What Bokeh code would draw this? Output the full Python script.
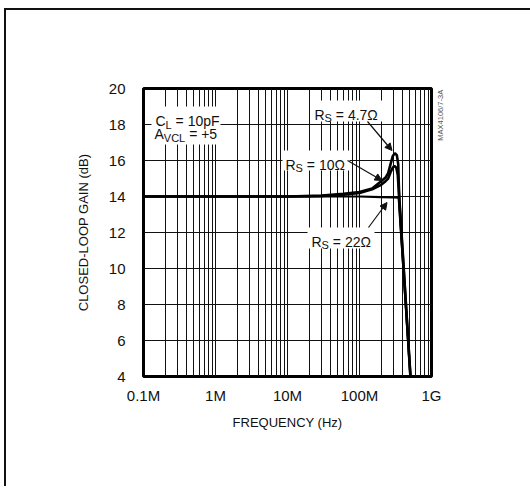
import math
from bokeh.plotting import figure
from bokeh.models import FixedTicker, Label, Arrow, NormalHead, BoxAnnotation, LinearAxis
from bokeh.embed import file_html
from bokeh.resources import INLINE

# ---------------- data ----------------
freq_rs47 = [1e5, 1e6, 1e7, 3e7, 6e7, 1e8, 1.5e8, 2e8, 2.3e8, 2.5e8, 2.7e8, 2.9e8, 3.1e8, 3.3e8, 3.45e8, 3.52e8, 3.58e8, 5.1e8]
gain_rs47 = [14.0, 14.0, 14.0, 14.05, 14.15, 14.25, 14.45, 14.85, 15.05, 15.3, 15.8, 16.25, 16.4, 16.3, 15.8, 14.6, 13.9, 4.0]

freq_rs10 = [1e5, 1e6, 1e7, 3e7, 6e7, 1e8, 1.5e8, 2e8, 2.3e8, 2.5e8, 2.7e8, 2.9e8, 3.05e8, 3.25e8, 3.4e8, 3.5e8, 3.55e8, 5.1e8]
gain_rs10 = [14.0, 14.0, 14.0, 14.03, 14.1, 14.2, 14.4, 14.65, 14.85, 15.0, 15.35, 15.6, 15.7, 15.6, 15.2, 14.4, 13.9, 4.0]

freq_rs22 = [1e5, 1e6, 1e7, 1e8, 2e8, 3e8, 3.5e8, 5.1e8]
gain_rs22 = [14.0, 14.0, 14.0, 14.0, 13.97, 13.95, 13.93, 4.0]

x_major_ticks = [1e5, 1e6, 1e7, 1e8, 1e9]
x_tick_labels = ["0.1M", "1M", "10M", "100M", "1G"]
y_ticks = [4, 6, 8, 10, 12, 14, 16, 18, 20]
part_number = "MAX4106/7-3A"

FONT = "Liberation Sans"

# page-pixel -> data helpers (frame in page pixels)
FL, FR, FT, FB = 143.0, 431.0, 88.0, 376.0
def fx(px):
    return 10 ** (5 + 4 * (px - FL) / (FR - FL))
def fy(py):
    return 20 - 16 * (py - FT) / (FB - FT)

W, H = 528, 478
OX, OY = 6, 10  # page position of canvas origin

p = figure(width=W, height=H, x_axis_type="log", x_range=(1e5, 1e9), y_range=(4, 20),
           output_backend="svg", toolbar_location=None,
           min_border_left=int(FL - OX), min_border_top=int(FT - OY),
           min_border_right=int(W - (FR - OX)), min_border_bottom=int(H - (FB - OY)))
p.styles = {"margin-left": "6px", "margin-top": "10px", "border": "none",
            "box-shadow": "-2px -2px 0 0 #111", "overflow": "hidden"}

p.outline_line_color = "black"
p.outline_line_width = 3
p.background_fill_color = "white"
p.border_fill_color = "white"

minor = [k * 10 ** d for d in range(5, 9) for k in range(1, 10)] + [1e9]
p.xgrid.ticker = FixedTicker(ticks=minor)
p.xgrid.grid_line_color = "#111"
p.xgrid.grid_line_width = 1
p.ygrid.ticker = FixedTicker(ticks=y_ticks)
p.ygrid.grid_line_color = "#111"
p.ygrid.grid_line_width = 1

p.xaxis.ticker = FixedTicker(ticks=x_major_ticks)
p.xaxis.major_label_overrides = {t: l for t, l in zip(x_major_ticks, x_tick_labels)}
p.yaxis.ticker = FixedTicker(ticks=y_ticks)
for ax in (p.xaxis[0], p.yaxis[0]):
    ax.axis_line_color = None
    ax.major_tick_line_color = None
    ax.minor_tick_line_color = None
    ax.major_tick_out = 0
    ax.major_tick_in = 0
    ax.minor_tick_out = 0
    ax.minor_tick_in = 0
    ax.major_label_text_font = FONT
    ax.major_label_text_font_size = "15px"
    ax.major_label_text_color = "#111"
    ax.axis_label_text_font = FONT
    ax.axis_label_text_font_size = "13px"
    ax.axis_label_text_font_style = "normal"
    ax.axis_label_text_color = "#111"
p.xaxis.axis_label = "FREQUENCY (Hz)"
p.yaxis.axis_label = "CLOSED-LOOP GAIN (dB)"
p.xaxis.major_label_standoff = 10
p.yaxis.major_label_standoff = 18
p.xaxis.axis_label_standoff = 8
p.yaxis.axis_label_standoff = 15

# right-hand axis used only to carry the vertical part number
pn_pos = 17.1
rax = LinearAxis(ticker=FixedTicker(ticks=[pn_pos]),
                 major_label_overrides={pn_pos: part_number},
                 major_label_orientation=math.pi / 2,
                 axis_line_color=None, major_tick_line_color=None, minor_tick_line_color=None,
                 major_tick_out=0, major_tick_in=0, minor_tick_out=0, minor_tick_in=0,
                 major_label_standoff=9, major_label_text_font=FONT,
                 major_label_text_font_size="7.5px", major_label_text_color="#555")
p.add_layout(rax, "right")

p.line(freq_rs22, gain_rs22, line_color="black", line_width=2.2)
p.line(freq_rs10, gain_rs10, line_color="black", line_width=2.6)
p.line(freq_rs47, gain_rs47, line_color="black", line_width=2.6)

# ---------- annotations ----------
WID = {'R': 722, 'S': 667, ' ': 278, '=': 584, '4': 556, '.': 278, '7': 556, 'Ω': 768,
       '1': 556, '0': 556, '2': 556, 'C': 722, 'L': 556, 'p': 556, 'F': 611, 'A': 667,
       'V': 667, '+': 584, '5': 556}
def tw(s, size):
    return sum(WID.get(c, 556) for c in s) * size / 1000.0

def compound(px, py, pieces, main=14, sub=11):
    x = px
    for txt, is_sub, gap in pieces:
        size = sub if is_sub else main
        yy = py + 3.5 if is_sub else py
        x += gap
        p.add_layout(Label(x=fx(x), y=fy(yy), text=txt, text_font=FONT,
                           text_font_size=f"{size}px", text_color="#111",
                           text_align="left", text_baseline="alphabetic"))
        x += tw(txt, size)

def box(l, r, t, b):
    p.add_layout(BoxAnnotation(left=fx(l), right=fx(r), top=fy(t), bottom=fy(b),
                               fill_color="white", fill_alpha=1.0, line_color=None))

box(151, 220, 106, 144)
box(311, 382, 100, 121)
box(282, 349, 150, 170)
box(307, 374, 227, 248)

GAP = 3.9
compound(155, 120.5, [("C", False, 0), ("L", True, 0), ("= 10pF", False, GAP)])
compound(154, 133.5, [("A", False, 0), ("VCL", True, 0), ("= +5", False, GAP)])
compound(314, 114, [("R", False, 0), ("S", True, 0), ("= 4.7Ω", False, GAP)])
compound(285, 164, [("R", False, 0), ("S", True, 0), ("= 10Ω", False, GAP)])
compound(311, 241, [("R", False, 0), ("S", True, 0), ("= 22Ω", False, GAP)])

def arrow(x0, y0, x1, y1):
    p.add_layout(Arrow(x_start=fx(x0), y_start=fy(y0), x_end=fx(x1), y_end=fy(y1),
                       line_color="#111", line_width=1.2,
                       end=NormalHead(size=7, fill_color="#111", line_color="#111")))

arrow(367, 121, 391.5, 150)
arrow(347, 160, 381.5, 180)
arrow(368, 227, 386.5, 202)

open("out.html", "w").write(file_html(p, INLINE))
